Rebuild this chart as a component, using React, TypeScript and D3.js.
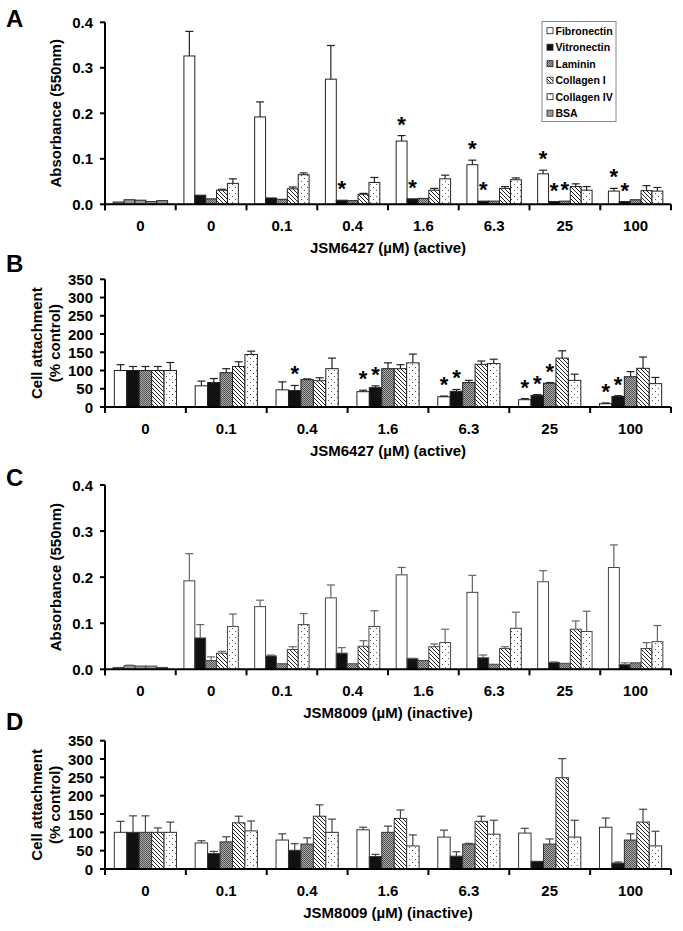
import React from 'react';
import * as d3 from 'd3';

const FONT = '"Liberation Sans", Arial, Helvetica, sans-serif';

const seriesNames = ['Fibronectin', 'Vitronectin', 'Laminin', 'Collagen I', 'Collagen IV', 'BSA'];
const catsAC = ['0', '0', '0.1', '0.4', '1.6', '6.3', '25', '100'];
const catsBD = ['0', '0.1', '0.4', '1.6', '6.3', '25', '100'];
const absTicks = [0, 0.1, 0.2, 0.3, 0.4];
const pctTicks = [0, 50, 100, 150, 200, 250, 300, 350];

// Panel A: absorbance, JSM6427 (active)
const aFn = [0.005, 0.326, 0.192, 0.275, 0.139, 0.087, 0.067, 0.029];
const aVn = [0.010, 0.020, 0.014, 0.009, 0.012, 0.007, 0.006, 0.006];
const aLam = [0.009, 0.012, 0.011, 0.008, 0.013, 0.007, 0.007, 0.010];
const aCol1 = [0.006, 0.031, 0.034, 0.022, 0.031, 0.035, 0.039, 0.030];
const aCol4 = [0.008, 0.046, 0.065, 0.048, 0.056, 0.054, 0.031, 0.029];
const aFnErr = [0, 0.054, 0.033, 0.074, 0.012, 0.010, 0.008, 0.006];
const aVnErr = [0, 0, 0, 0, 0, 0, 0, 0];
const aLamErr = [0, 0, 0, 0, 0, 0, 0, 0];
const aCol1Err = [0, 0.002, 0.004, 0.002, 0.004, 0.004, 0.006, 0.011];
const aCol4Err = [0, 0.010, 0.004, 0.011, 0.008, 0.004, 0.008, 0.008];
const aStars = [[3, 1], [4, 0], [4, 1], [5, 0], [5, 1], [6, 0], [6, 1], [6, 2], [7, 0], [7, 1]];

// Panel B: % control, JSM6427 (active)
const bFn = [100, 58, 47, 42, 28, 20, 9];
const bVn = [100, 67, 45, 53, 43, 32, 29];
const bLam = [100, 94, 75, 105, 67, 65, 83];
const bCol1 = [100, 111, 72, 105, 117, 134, 106];
const bCol4 = [100, 144, 105, 121, 119, 73, 64];
const bFnErr = [16, 13, 22, 4, 2, 3, 2];
const bVnErr = [11, 11, 14, 5, 5, 2, 2];
const bLamErr = [11, 11, 2, 16, 6, 2, 14];
const bCol1Err = [11, 13, 8, 11, 9, 20, 31];
const bCol4Err = [22, 9, 29, 24, 12, 17, 17];
const bStars = [[2, 1], [3, 0], [3, 1], [4, 0], [4, 1], [5, 0], [5, 1], [5, 2], [6, 0], [6, 1]];

// Panel C: absorbance, JSM8009 (inactive)
const cFn = [0.004, 0.192, 0.136, 0.155, 0.205, 0.167, 0.190, 0.221];
const cVn = [0.008, 0.068, 0.029, 0.035, 0.023, 0.025, 0.015, 0.010];
const cLam = [0.007, 0.019, 0.012, 0.012, 0.019, 0.011, 0.013, 0.014];
const cCol1 = [0.007, 0.035, 0.043, 0.050, 0.049, 0.045, 0.087, 0.045];
const cCol4 = [0.004, 0.093, 0.097, 0.093, 0.058, 0.089, 0.082, 0.060];
const cFnErr = [0, 0.059, 0.014, 0.028, 0.016, 0.037, 0.024, 0.049];
const cVnErr = [0.001, 0.029, 0.002, 0.012, 0.001, 0.006, 0.001, 0.004];
const cLamErr = [0, 0.008, 0, 0, 0, 0, 0, 0];
const cCol1Err = [0, 0.004, 0.006, 0.012, 0.006, 0.004, 0.018, 0.013];
const cCol4Err = [0, 0.027, 0.024, 0.034, 0.029, 0.035, 0.044, 0.035];

// Panel D: % control, JSM8009 (inactive)
const dFn = [100, 71, 79, 107, 87, 98, 114];
const dVn = [100, 42, 51, 34, 35, 21, 16];
const dLam = [100, 74, 68, 100, 68, 68, 79];
const dCol1 = [100, 126, 144, 138, 130, 249, 128];
const dCol4 = [100, 104, 100, 63, 95, 87, 63];
const dFnErr = [30, 6, 17, 7, 19, 13, 25];
const dVnErr = [45, 6, 18, 6, 12, 0, 3];
const dLamErr = [45, 14, 17, 17, 2, 14, 17];
const dCol1Err = [12, 18, 31, 23, 14, 52, 35];
const dCol4Err = [28, 27, 36, 30, 38, 46, 40];

const FILLS = ['#ffffff', '#111111', 'url(#pat-lam)', 'url(#pat-col1)', 'url(#pat-col4)', '#9a9a9a'];

type PanelProps = {
  letter: string;
  letterY: number;
  yTop: number;
  y0: number;
  yMax: number;
  ticks: number[];
  fmt: (v: number) => string;
  cats: string[];
  values: number[][];
  errors: number[][];
  stars: number[][];
  yTitle: string[];
  yTitleX: number[];
  xTitle: string;
  grayFirst: boolean;
  stroke: string;
  errColor: string;
};

const X0 = 105;
const X1 = 671;

function Panel(p: PanelProps) {
  const idx = p.cats.map((_, i) => i);
  const pi = 1.5 / 6.5;
  const x = d3.scaleBand<number>().domain(idx).range([X0, X1]).paddingInner(pi).paddingOuter(pi / 2);
  const sub = d3.scaleBand<number>().domain(d3.range(5)).range([0, x.bandwidth()]);
  const y = d3.scaleLinear().domain([0, p.yMax]).range([p.y0, p.yTop]);
  const step = x.step();
  const bounds = d3.range(p.cats.length + 1).map((k) => X0 + k * step);
  const midY = (p.yTop + p.y0) / 2;
  const bars: React.ReactNode[] = [];
  const errs: React.ReactNode[] = [];
  p.values.forEach((ser, s) => {
    ser.forEach((v, g) => {
      const bx = (x(g) as number) + (sub(s) as number);
      const bw = sub.bandwidth();
      const fill = p.grayFirst && g === 0 ? FILLS[5] : FILLS[s];
      bars.push(
        <rect key={`b${s}-${g}`} x={bx} y={y(v)} width={bw} height={p.y0 - y(v)} fill={fill} stroke={p.stroke} strokeWidth={1} />
      );
      const e = p.errors[s][g];
      if (e > 0) {
        const cx = bx + bw / 2;
        errs.push(
          <g key={`e${s}-${g}`} stroke={p.errColor} strokeWidth={1.2}>
            <line x1={cx} x2={cx} y1={y(v)} y2={y(v + e)} />
            <line x1={cx - 4} x2={cx + 4} y1={y(v + e)} y2={y(v + e)} />
          </g>
        );
      }
    });
  });
  return (
    <g fontFamily={FONT} fontWeight="bold">
      <text x={6} y={p.letterY} fontSize={24}>{p.letter}</text>
      {p.yTitle.map((t, i) => (
        <text key={t} transform={`translate(${p.yTitleX[i]},${midY}) rotate(-90)`} textAnchor="middle" fontSize={15}>{t}</text>
      ))}
      {bars}
      {errs}
      {p.stars.map(([g, s]) => {
        const v = p.values[s][g];
        const e = p.errors[s][g];
        const cx = (x(g) as number) + (sub(s) as number) + sub.bandwidth() / 2;
        return (
          <text key={`s${g}-${s}`} x={cx} y={y(v + e) - 4} textAnchor="middle" fontSize={22}>*</text>
        );
      })}
      <line x1={X0} x2={X0} y1={p.yTop} y2={p.y0 + 6} stroke="#000" strokeWidth={2} />
      <line x1={X0} x2={X1} y1={p.y0} y2={p.y0} stroke="#000" strokeWidth={2} />
      {p.ticks.map((t) => (
        <g key={`t${t}`}>
          <line x1={X0 - 5} x2={X0} y1={y(t)} y2={y(t)} stroke="#000" strokeWidth={2} />
          <text x={X0 - 12} y={y(t) + 5.5} textAnchor="end" fontSize={15}>{p.fmt(t)}</text>
        </g>
      ))}
      {bounds.map((bx, k) => (
        <line key={`xt${k}`} x1={bx} x2={bx} y1={p.y0} y2={p.y0 + 6} stroke="#000" strokeWidth={2} />
      ))}
      {p.cats.map((c, i) => (
        <text key={`c${i}`} x={(x(i) as number) + x.bandwidth() / 2} y={p.y0 + 27} textAnchor="middle" fontSize={15}>{c}</text>
      ))}
      <text x={(X0 + X1) / 2} y={p.y0 + 49} textAnchor="middle" fontSize={15}>{p.xTitle}</text>
    </g>
  );
}

function Legend() {
  const lx = 542;
  const ly = 21.5;
  return (
    <g fontFamily={FONT} fontWeight="bold">
      <rect x={lx} y={ly} width={74} height={100} fill="#fff" stroke="#888" strokeWidth={1} />
      {seriesNames.map((n, i) => {
        const cy = 30.7 + i * 16.5;
        return (
          <g key={n}>
            <rect x={lx + 5} y={cy - 3} width={6} height={6} fill={FILLS[i]} stroke="#222" strokeWidth={0.8} />
            <text x={lx + 13.5} y={cy + 3.8} fontSize={10.5}>{n}</text>
          </g>
        );
      })}
    </g>
  );
}

export default function App() {
  const absFmt = (v: number) => d3.format('.1f')(v);
  const pctFmt = (v: number) => String(v);
  return (
    <svg width={683} height={931} viewBox="0 0 683 931" style={{ position: 'absolute', left: 0, top: 0, background: '#fff' }}>
      <defs>
        <pattern id="pat-lam" width={2} height={2} patternUnits="userSpaceOnUse">
          <rect width={2} height={2} fill="#a8a8a8" />
          <rect width={1} height={1} fill="#555" />
          <rect x={1} y={1} width={1} height={1} fill="#555" />
        </pattern>
        <pattern id="pat-col1" width={4} height={4} patternUnits="userSpaceOnUse">
          <rect width={4} height={4} fill="#fff" />
          <path d="M0,0 L4,4 M-1,3 L1,5 M3,-1 L5,1" stroke="#222" strokeWidth={1} />
        </pattern>
        <pattern id="pat-col4" width={6} height={6} patternUnits="userSpaceOnUse">
          <rect width={6} height={6} fill="#fff" />
          <rect x={1} y={1} width={1} height={1} fill="#555" />
          <rect x={4} y={4} width={1} height={1} fill="#555" />
        </pattern>
      </defs>
      <rect width={683} height={931} fill="#fff" />
      <Panel letter="A" letterY={27} yTop={22.3} y0={204.3} yMax={0.4} ticks={absTicks} fmt={absFmt}
        cats={catsAC} values={[aFn, aVn, aLam, aCol1, aCol4]} errors={[aFnErr, aVnErr, aLamErr, aCol1Err, aCol4Err]}
        stars={aStars} yTitle={['Absorbance (550nm)']} yTitleX={[61]} xTitle="JSM6427 (µM) (active)" grayFirst={true}
        stroke="#222" errColor="#222" />
      <Legend />
      <Panel letter="B" letterY={272} yTop={279.3} y0={407} yMax={350} ticks={pctTicks} fmt={pctFmt}
        cats={catsBD} values={[bFn, bVn, bLam, bCol1, bCol4]} errors={[bFnErr, bVnErr, bLamErr, bCol1Err, bCol4Err]}
        stars={bStars} yTitle={['Cell attachment', '(% control)']} yTitleX={[41.5, 60]} xTitle="JSM6427 (µM) (active)" grayFirst={false}
        stroke="#222" errColor="#222" />
      <Panel letter="C" letterY={486} yTop={485} y0={669.3} yMax={0.4} ticks={absTicks} fmt={absFmt}
        cats={catsAC} values={[cFn, cVn, cLam, cCol1, cCol4]} errors={[cFnErr, cVnErr, cLamErr, cCol1Err, cCol4Err]}
        stars={[]} yTitle={['Absorbance (550nm)']} yTitleX={[61]} xTitle="JSM8009 (µM) (inactive)" grayFirst={true}
        stroke="#444" errColor="#666" />
      <Panel letter="D" letterY={730} yTop={740.7} y0={869} yMax={350} ticks={pctTicks} fmt={pctFmt}
        cats={catsBD} values={[dFn, dVn, dLam, dCol1, dCol4]} errors={[dFnErr, dVnErr, dLamErr, dCol1Err, dCol4Err]}
        stars={[]} yTitle={['Cell attachment', '(% control)']} yTitleX={[41.5, 60]} xTitle="JSM8009 (µM) (inactive)" grayFirst={false}
        stroke="#333" errColor="#444" />
    </svg>
  );
}
